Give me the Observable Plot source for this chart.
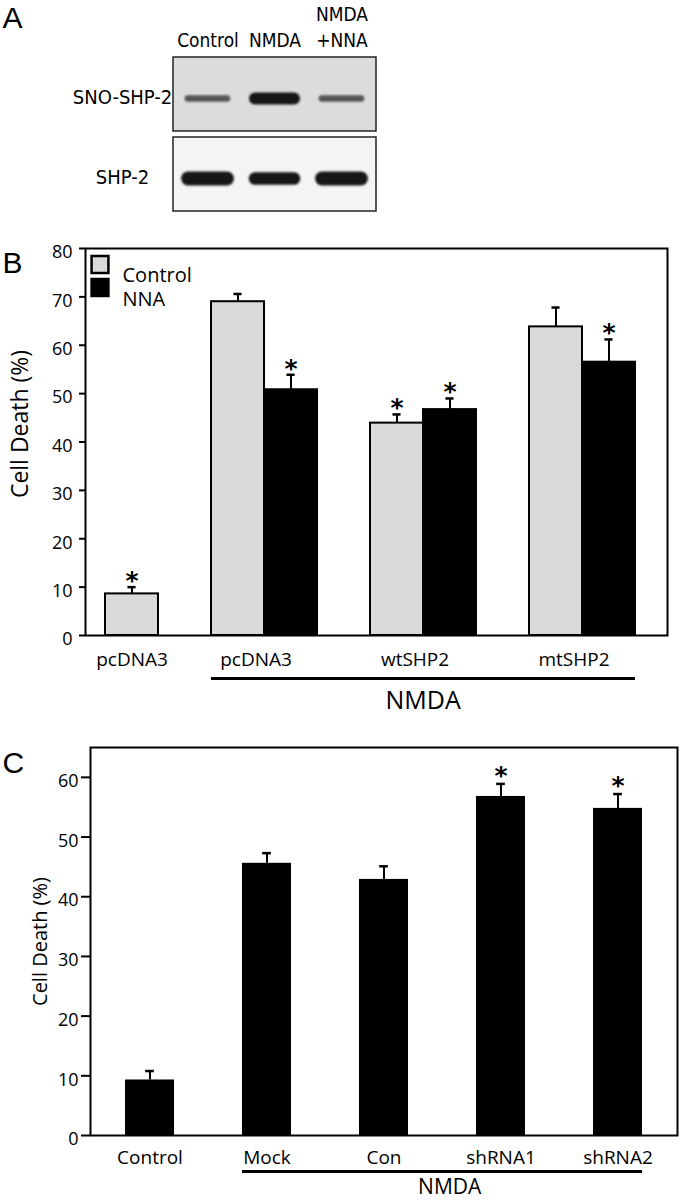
<!DOCTYPE html>
<html><head><meta charset="utf-8">
<script src="https://cdn.jsdelivr.net/npm/d3@7"></script>
<script src="https://cdn.jsdelivr.net/npm/@observablehq/plot@0.6"></script>
<style>
body{margin:0;background:#fff;}
#fig{width:680px;}
#fig svg{display:block;overflow:visible;}
</style></head><body><div id="fig"></div>
<script>
// ---------- Panel A: western blot ----------
const lanes = ["Control", "NMDA", "NMDA\n+NNA"];
const blotRows = ["SNO-SHP-2", "SHP-2"];
const snoSignal = [0.55, 1.0, 0.55];
const shpSignal = [1.15, 1.05, 1.15];

// ---------- Panel B ----------
const groupLabelsB = ["pcDNA3", "pcDNA3", "wtSHP2", "mtSHP2"];
const seriesB = ["Control", "NNA"];
const controlB = [8.6, 69.0, 43.9, 63.8];
const controlErrB = [1.4, 1.6, 1.8, 4.0];
const nnaB = [null, 50.8, 46.7, 56.5];
const nnaErrB = [null, 3.1, 2.3, 4.7];
const controlStarB = [true, false, true, false];
const nnaStarB = [false, true, true, true];
const nmdaB = [false, true, true, true];
const yTicksB = [0, 10, 20, 30, 40, 50, 60, 70, 80];

// ---------- Panel C ----------
const catsC = ["Control", "Mock", "Con", "shRNA1", "shRNA2"];
const valuesC = [9.3, 45.6, 42.9, 56.8, 54.8];
const errC = [1.5, 1.7, 2.2, 2.1, 2.4];
const starC = [false, false, false, true, true];
const nmdaC = [false, true, true, true, true];
const yTicksC = [0, 10, 20, 30, 40, 50, 60];

const fig = document.getElementById("fig");
const sansUI = "'Open Sans', Lato, sans-serif";
const helv = "'Liberation Sans', Arial, sans-serif";
const narrow = "'Liberation Sans Narrow', 'DejaVu Sans Condensed', 'Liberation Sans', sans-serif";
const starFont = "'DejaVu Sans', sans-serif";

// ===== Panel A =====
const blots = [];
lanes.forEach((lane, i) => {
  blots.push({row: blotRows[0], lane, signal: snoSignal[i]});
  blots.push({row: blotRows[1], lane, signal: shpSignal[i]});
});
const plotA = Plot.plot({
  width: 680, height: 222,
  marginLeft: 173, marginRight: 304, marginTop: 56, marginBottom: 11,
  style: {fontFamily: narrow, fontSize: "20px", color: "black", background: "white", overflow: "visible"},
  x: {type: "band", domain: lanes, padding: 0, axis: null},
  y: {type: "band", domain: blotRows, paddingInner: 0.075, paddingOuter: 0, axis: null},
  marks: [
    Plot.cell([blotRows[0]], {y: d => d, fill: "#dcdcdc", stroke: "#222", strokeWidth: 1.5}),
    Plot.cell([blotRows[1]], {y: d => d, fill: "#f4f4f4", stroke: "#222", strokeWidth: 1.5}),
    Plot.tickY(blots, {
      x: "lane", y: "row", dy: 4,
      insetLeft: 14, insetRight: 14,
      stroke: "#161616",
      strokeOpacity: d => Math.min(1, 0.3 + 0.7 * d.signal),
      strokeWidth: d => 12 * d.signal,
      strokeLinecap: "round",
      imageFilter: "blur(1.2px)"
    }),
    Plot.text(lanes, {x: d => d, text: d => d, frameAnchor: "top", dy: -10, lineAnchor: "bottom", lineHeight: 1.35, fontSize: 19}),
    Plot.text(blotRows, {y: d => d, text: d => d, frameAnchor: "left", dx: -51, dy: 3, textAnchor: "middle", fontSize: 20}),
    Plot.text(["A"], {frameAnchor: "top-left", dx: -171, dy: -29, lineAnchor: "bottom", textAnchor: "start", fontSize: 30, fontFamily: helv})
  ]
});
fig.appendChild(plotA);

// ===== Panel B =====
const rowsB = [];
const domainB = [];
const groupAnchorB = [];
groupLabelsB.forEach((g, gi) => {
  if (gi > 0) domainB.push("gap" + gi);
  const keys = [];
  if (controlB[gi] != null) {
    const key = gi + "-Control";
    domainB.push(key); keys.push(key);
    rowsB.push({key, group: gi, series: seriesB[0], value: controlB[gi], err: controlErrB[gi], star: controlStarB[gi]});
  }
  if (nnaB[gi] != null) {
    const key = gi + "-NNA";
    domainB.push(key); keys.push(key);
    rowsB.push({key, group: gi, series: seriesB[1], value: nnaB[gi], err: nnaErrB[gi], star: nnaStarB[gi]});
  }
  groupAnchorB.push({label: g, key: keys[keys.length - 1], pair: keys.length === 2, first: keys[0], nmda: nmdaB[gi]});
});
const xOptsB = {type: "band", domain: domainB, paddingInner: 0, paddingOuter: 0.4, align: 0.38};
const bwB = Plot.scale({x: {...xOptsB, range: [85, 667]}}).bandwidth;
const nmdaKeysB = groupAnchorB.filter(g => g.nmda);
const firstNmdaB = nmdaKeysB[0].first;
const lastNmdaB = nmdaKeysB[nmdaKeysB.length - 1].key;
const iFirst = domainB.indexOf(firstNmdaB), iLast = domainB.indexOf(lastNmdaB);
const midPos = (iFirst + iLast + 1) / 2;
const midKeyB = domainB[Math.floor(midPos)];
const midDxB = (midPos - Math.floor(midPos) - 0.5) * bwB;

const legendMarks = [];
seriesB.forEach((s, i) => {
  legendMarks.push(Plot.dot([s], {frameAnchor: "top-left", dx: 14.5, dy: 16 + i * 23, symbol: "square", r: 9.5, fill: d => d, stroke: "black", strokeWidth: 2.5}));
  legendMarks.push(Plot.text([s], {frameAnchor: "top-left", dx: 37, dy: 19 + i * 24.5, text: d => d, textAnchor: "start", fontSize: 20}));
});

const plotB = Plot.plot({
  width: 680, height: 500,
  marginLeft: 85, marginRight: 13, marginTop: 26, marginBottom: 87,
  style: {fontFamily: sansUI, fontSize: "18px", color: "black", background: "white", overflow: "visible"},
  x: {...xOptsB, axis: null},
  y: {domain: [0, 80]},
  color: {domain: seriesB, range: ["#d9d9d9", "#000000"]},
  marks: [
    Plot.ruleX(rowsB, {x: "key", y1: "value", y2: d => d.value + d.err, strokeWidth: 2}),
    Plot.tickY(rowsB, {x: "key", y: d => d.value + d.err, strokeWidth: 2.5, insetLeft: (bwB - 9) / 2, insetRight: (bwB - 9) / 2}),
    Plot.barY(rowsB, {x: "key", y: "value", fill: "series", stroke: "black", strokeWidth: 2}),
    Plot.text(rowsB.filter(d => d.star), {x: "key", y: d => d.value + d.err, text: () => "*", fontSize: 25, fontWeight: "bold", fontFamily: starFont, dy: -6}),
    Plot.frame({strokeWidth: 2}),
    Plot.axisY({ticks: yTicksB, tickSize: 6, text: null, strokeWidth: 2, label: null}),
    Plot.axisY({ticks: yTicksB, tickSize: 0, tickPadding: 13, dy: 4, fontSize: 18, label: null}),
    Plot.text(["Cell Death (%)"], {frameAnchor: "left", dx: -65, dy: -18, rotate: -90, textAnchor: "middle", fontSize: 23}),
    Plot.text(groupAnchorB.filter(g => !g.pair), {x: "key", text: "label", frameAnchor: "bottom", dy: 30, textAnchor: "middle", fontSize: 19}),
    Plot.text(groupAnchorB.filter(g => g.pair), {x: "key", text: "label", frameAnchor: "bottom", dy: 30, dx: -bwB / 2 - 8, textAnchor: "middle", fontSize: 19}),
    Plot.ruleY([0], {x1: () => firstNmdaB, x2: () => lastNmdaB, dy: 43, strokeWidth: 3}),
    Plot.text(["NMDA"], {x: () => midKeyB, frameAnchor: "bottom", dx: midDxB, dy: 73, textAnchor: "middle", fontSize: 25}),
    ...legendMarks,
    Plot.text(["B"], {frameAnchor: "top-left", dx: -83, dy: 24, lineAnchor: "bottom", textAnchor: "start", fontSize: 30, fontFamily: helv})
  ]
});
fig.appendChild(plotB);

// ===== Panel C =====
const rowsC = catsC.map((c, i) => ({cat: c, value: valuesC[i], err: errC[i], star: starC[i], nmda: nmdaC[i]}));
const xOptsC = {type: "band", domain: catsC, paddingInner: 0.58, paddingOuter: 0.29};
const scC = Plot.scale({x: {...xOptsC, range: [90, 677]}});
const stepC = scC.step;
const bwC = scC.bandwidth;
const nmdaCats = rowsC.filter(d => d.nmda).map(d => d.cat);
const midIdxC = (catsC.indexOf(nmdaCats[0]) + catsC.indexOf(nmdaCats[nmdaCats.length - 1])) / 2;
const midKeyC = catsC[Math.floor(midIdxC)];
const midDxC = (midIdxC - Math.floor(midIdxC)) * stepC;

const plotC = Plot.plot({
  width: 680, height: 481,
  marginLeft: 90, marginRight: 3, marginTop: 25, marginBottom: 68,
  style: {fontFamily: sansUI, fontSize: "18px", color: "black", background: "white", overflow: "visible"},
  x: {...xOptsC, axis: null},
  y: {domain: [0, 65]},
  marks: [
    Plot.ruleX(rowsC, {x: "cat", y1: "value", y2: d => d.value + d.err, strokeWidth: 2}),
    Plot.tickY(rowsC, {x: "cat", y: d => d.value + d.err, strokeWidth: 2.5, insetLeft: (bwC - 9) / 2, insetRight: (bwC - 9) / 2}),
    Plot.barY(rowsC, {x: "cat", y: "value", fill: "black"}),
    Plot.text(rowsC.filter(d => d.star), {x: "cat", y: d => d.value + d.err, text: () => "*", fontSize: 25, fontWeight: "bold", fontFamily: starFont, dy: -8}),
    Plot.frame({strokeWidth: 2}),
    Plot.axisY({ticks: yTicksC, tickSize: 9, text: null, strokeWidth: 2, label: null}),
    Plot.axisY({ticks: yTicksC, tickSize: 0, tickPadding: 12, dy: 4, fontSize: 18, label: null}),
    Plot.text(["Cell Death (%)"], {frameAnchor: "left", dx: -50, rotate: -90, textAnchor: "middle", fontSize: 20}),
    Plot.text(rowsC, {x: "cat", text: "cat", frameAnchor: "bottom", dy: 28, textAnchor: "middle", fontSize: 19}),
    Plot.ruleY([0], {x1: () => nmdaCats[0], x2: () => nmdaCats[nmdaCats.length - 1], dy: 36, strokeWidth: 3}),
    Plot.text(["NMDA"], {x: () => midKeyC, frameAnchor: "bottom", dx: midDxC + 7, dy: 58, textAnchor: "middle", fontSize: 21}),
    Plot.text(["C"], {frameAnchor: "top-left", dx: -88, dy: 25, lineAnchor: "bottom", textAnchor: "start", fontSize: 30, fontFamily: helv})
  ]
});
fig.appendChild(plotC);
</script>
</body></html>
